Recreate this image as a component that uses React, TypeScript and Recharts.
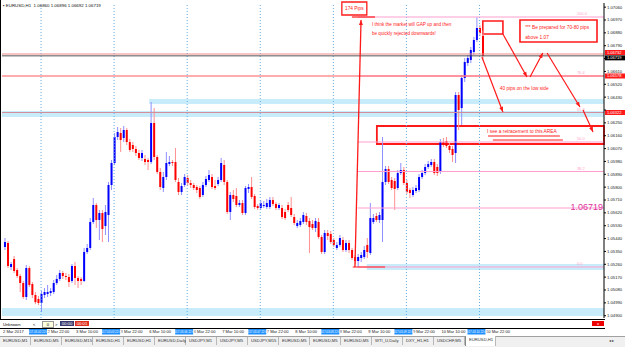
import React from "react";
import { ComposedChart, Bar, XAxis, YAxis, ReferenceLine, ReferenceArea } from "recharts";

// EURUSD H1 candles, 2 Mar 10:00 .. 10 Mar 23:00
const open = [
  1.05381, 1.05409, 1.05241, 1.05297, 1.0522, 1.05178, 1.05129, 1.05031, 1.05234, 1.05122, 1.05045, 1.05017, 1.04989, 1.05045,
  1.05052, 1.05059, 1.05066, 1.05129, 1.05157, 1.05199, 1.05178, 1.05171, 1.05143, 1.05248, 1.05164, 1.05157, 1.05143, 1.05346,
  1.05374, 1.05556, 1.05675, 1.0557, 1.05619, 1.05528, 1.05605, 1.05815, 1.05969, 1.06151, 1.06179, 1.06144, 1.062, 1.06116,
  1.06095, 1.06067, 1.06039, 1.06004, 1.05997, 1.0599, 1.05976, 1.06249, 1.06011, 1.05906, 1.05794, 1.05871, 1.05962, 1.05976,
  1.05976, 1.05836, 1.05766, 1.05815, 1.05864, 1.05829, 1.05815, 1.05801, 1.05794, 1.05745, 1.05815, 1.0585, 1.05871, 1.05808,
  1.05822, 1.0585, 1.05955, 1.05836, 1.05626, 1.05745, 1.05738, 1.05675, 1.05689, 1.05619, 1.05787, 1.05801, 1.05738, 1.05668,
  1.05654, 1.05668, 1.05661, 1.05661, 1.0571, 1.05682, 1.05654, 1.05654, 1.05626, 1.05675, 1.05654, 1.05591, 1.05528, 1.05535,
  1.05556, 1.05598, 1.05563, 1.05542, 1.05514, 1.05556, 1.05451, 1.05346, 1.05479, 1.05472, 1.0543, 1.05374, 1.05395, 1.0543,
  1.0536, 1.05409, 1.0536, 1.05311, 1.05283, 1.05304, 1.05311, 1.05395, 1.05339, 1.05556, 1.05598, 1.0557, 1.0557, 1.05836,
  1.05927, 1.0585, 1.05843, 1.05794, 1.05899, 1.0592, 1.05829, 1.0578, 1.05745, 1.05773, 1.0578, 1.05871, 1.05899, 1.05941,
  1.05955, 1.05976, 1.05941, 1.05906, 1.06116, 1.06123, 1.06088, 1.06067, 1.06039, 1.06445, 1.06354, 1.06564, 1.06669, 1.0669,
  1.06746, 1.0683, 1.06914, 1.0686,
];
const high = [
  1.05444, 1.05423, 1.05276, 1.05318, 1.05234, 1.05192, 1.05143, 1.05255, 1.05248, 1.05136, 1.05066, 1.05038, 1.05073, 1.05094,
  1.05115, 1.05094, 1.0515, 1.05185, 1.0522, 1.05213, 1.05199, 1.05192, 1.05262, 1.05276, 1.05178, 1.05171, 1.05374, 1.05402,
  1.05584, 1.05724, 1.05689, 1.0564, 1.0564, 1.05675, 1.05836, 1.0599, 1.06179, 1.06221, 1.06214, 1.06228, 1.06214, 1.06137,
  1.06116, 1.06088, 1.0606, 1.0606, 1.06025, 1.06004, 1.06396, 1.06354, 1.06025, 1.05934, 1.05906, 1.06046, 1.06018, 1.0599,
  1.06074, 1.05864, 1.05829, 1.05892, 1.05885, 1.0585, 1.05829, 1.05815, 1.05808, 1.05836, 1.05878, 1.0592, 1.05892, 1.0585,
  1.05871, 1.06004, 1.0599, 1.0585, 1.05766, 1.0578, 1.05794, 1.0571, 1.0571, 1.05808, 1.05822, 1.05871, 1.05752, 1.05682,
  1.0571, 1.05703, 1.05717, 1.05731, 1.05731, 1.05696, 1.05689, 1.05675, 1.05647, 1.05696, 1.05731, 1.05612, 1.0557, 1.05584,
  1.05626, 1.05619, 1.05584, 1.0557, 1.05584, 1.05584, 1.05465, 1.055, 1.055, 1.05493, 1.05444, 1.05416, 1.05465, 1.05451,
  1.0543, 1.0543, 1.05374, 1.05325, 1.05332, 1.05346, 1.05388, 1.05444, 1.05689, 1.05612, 1.05619, 1.05626, 1.06151, 1.05948,
  1.05948, 1.05871, 1.05864, 1.0592, 1.05969, 1.05941, 1.0585, 1.05794, 1.05801, 1.05815, 1.05892, 1.0592, 1.05962, 1.05983,
  1.05997, 1.05997, 1.05962, 1.06137, 1.06144, 1.06151, 1.06109, 1.06088, 1.06466, 1.06466, 1.06585, 1.06704, 1.06725, 1.06781,
  1.06851, 1.06991, 1.06935, 1.06896,
];
const low = [
  1.0536, 1.05234, 1.0522, 1.05199, 1.05164, 1.05066, 1.05017, 1.0501, 1.05101, 1.05024, 1.04982, 1.04975, 1.04926, 1.05024,
  1.05031, 1.05038, 1.05052, 1.05115, 1.05143, 1.05157, 1.0515, 1.05101, 1.05129, 1.05115, 1.05094, 1.05115, 1.05136, 1.05332,
  1.0536, 1.05542, 1.05514, 1.0543, 1.05416, 1.05465, 1.05416, 1.0578, 1.05955, 1.0613, 1.06046, 1.06116, 1.06095, 1.06046,
  1.06046, 1.06018, 1.0599, 1.05983, 1.05955, 1.0592, 1.05962, 1.0599, 1.05892, 1.0578, 1.05766, 1.0585, 1.05948, 1.05948,
  1.05836, 1.05745, 1.05745, 1.05801, 1.05808, 1.05794, 1.0578, 1.05759, 1.05717, 1.05731, 1.05801, 1.05836, 1.05787, 1.0578,
  1.05808, 1.05836, 1.05815, 1.05612, 1.0557, 1.05696, 1.05661, 1.05661, 1.05605, 1.05605, 1.05759, 1.05717, 1.05647, 1.0564,
  1.0564, 1.05654, 1.05647, 1.05647, 1.05668, 1.0564, 1.0564, 1.05577, 1.0557, 1.05626, 1.05591, 1.05535, 1.05514, 1.05521,
  1.05542, 1.05535, 1.05339, 1.055, 1.05486, 1.05437, 1.05332, 1.05332, 1.0543, 1.05402, 1.05381, 1.0536, 1.05381, 1.05346,
  1.05346, 1.05339, 1.0529, 1.05262, 1.05241, 1.05276, 1.05297, 1.05304, 1.05325, 1.05542, 1.05556, 1.05549, 1.05416, 1.05815,
  1.05822, 1.0578, 1.0564, 1.0578, 1.05885, 1.05815, 1.05752, 1.05724, 1.05731, 1.05759, 1.05766, 1.05857, 1.05885, 1.05927,
  1.05941, 1.05885, 1.05878, 1.05892, 1.06081, 1.06074, 1.06039, 1.05976, 1.05969, 1.062, 1.06235, 1.06536, 1.06648, 1.06669,
  1.06725, 1.06816, 1.06858, 1.06692,
];
const close = [
  1.05416, 1.05248, 1.05262, 1.05213, 1.05178, 1.05129, 1.05031, 1.05234, 1.05115, 1.05045, 1.04995, 1.04989, 1.05052, 1.05066,
  1.05066, 1.05073, 1.05129, 1.05157, 1.05199, 1.05178, 1.05171, 1.05136, 1.05248, 1.05164, 1.05143, 1.05143, 1.05346, 1.05374,
  1.05556, 1.05675, 1.0557, 1.05619, 1.05507, 1.05626, 1.05815, 1.05969, 1.06151, 1.06186, 1.0613, 1.062, 1.06116, 1.0606,
  1.06067, 1.06039, 1.06004, 1.06039, 1.05976, 1.05976, 1.06249, 1.06011, 1.05906, 1.05801, 1.05871, 1.05969, 1.05976, 1.05969,
  1.0585, 1.05766, 1.05808, 1.05871, 1.05829, 1.05815, 1.05794, 1.0578, 1.05731, 1.05815, 1.05857, 1.05885, 1.05801, 1.05794,
  1.0585, 1.05969, 1.05836, 1.05626, 1.05745, 1.05717, 1.05675, 1.05689, 1.05619, 1.05794, 1.05801, 1.05731, 1.05661, 1.05654,
  1.05689, 1.05675, 1.05689, 1.0571, 1.05682, 1.05654, 1.05675, 1.05591, 1.05584, 1.0564, 1.05605, 1.05549, 1.05549, 1.05563,
  1.05605, 1.05556, 1.05521, 1.05514, 1.05563, 1.05451, 1.05346, 1.05479, 1.05458, 1.05416, 1.05395, 1.05395, 1.05444, 1.0536,
  1.05409, 1.0536, 1.05304, 1.05283, 1.05311, 1.05325, 1.0536, 1.05346, 1.05584, 1.05584, 1.0557, 1.05605, 1.05836, 1.05927,
  1.05836, 1.05794, 1.05787, 1.05899, 1.0592, 1.05829, 1.05766, 1.05759, 1.0578, 1.05794, 1.05871, 1.05899, 1.05941, 1.05962,
  1.05976, 1.05899, 1.05899, 1.06116, 1.06095, 1.06088, 1.0606, 1.06025, 1.06445, 1.0634, 1.06564, 1.06676, 1.06704, 1.0676,
  1.0683, 1.06914, 1.06879, 1.06719,
];

const priceTicks = [
  1.049, 1.0499, 1.0508, 1.0517, 1.0526, 1.0535, 1.0544, 1.0553, 1.0562, 1.0571, 1.058, 1.0589, 1.0598,
  1.0607, 1.0616, 1.0625, 1.0634, 1.0643, 1.0652, 1.0661, 1.067, 1.0679, 1.0688, 1.0697, 1.0706,
];
const timeTicks = [0, 12, 24, 36, 48, 60, 72, 84, 96, 108, 120, 132, 144, 156];
const timeLabels = [
  "2 Mar 2017", "2 Mar 22:00", "3 Mar 10:00", "3 Mar 22:00", "6 Mar 10:00", "6 Mar 22:00", "7 Mar 10:00",
  "7 Mar 22:00", "8 Mar 10:00", "8 Mar 22:00", "9 Mar 10:00", "9 Mar 22:00", "10 Mar 10:00", "10 Mar 22:00",
];
const markerLabels = ["2017.03.02 22:00", "2017.03.03 22:00", "2017.03.06 22:00", "2017.03.07 22:00", "2017.03.08 22:00", "2017.03.09 22:00", "2017.03.10 22:00"];
const tabs = [
  "EURUSD,M1", "EURUSD,M5", "EURUSD,M15", "EURUSD,H1", "EURUSD,H1", "EURUSD,Daily", "USDJPY,M1", "USDJPY,M5",
  "USDJPY,M15", "EURUSD,M5", "EURUSD,M5", "EURUSD,M5", "WTI_U,Daily", "DXY_H1,H1", "USDCHF,M5", "EURUSD,H1",
];

// fibo from the 9 Mar low to the 10 Mar high
const fibLow = 1.05241;
const fibHigh = 1.06991;
const fibLevels = [0, 23.6, 38.2, 50, 61.8, 76.4, 100];
const fibLabelLevels = [0, 38.2, 50, 61.8, 76.4, 100];
const fibStartBar = 116;
const markerBars = [12, 36, 60, 84, 108, 132, 156];
const resistLine = 1.06732;

const X_MIN = -0.82;
const X_MAX = 196.9;
const Y_MIN = 1.04884;
const Y_MAX = 1.07089;

const candles = open.map((o, i) => ({ i, o, h: high[i], l: low[i], c: close[i], range: [low[i], high[i]] }));
const last = candles[candles.length - 1];
const fib = (r: number) => fibLow + ((fibHigh - fibLow) * r) / 100;
const highlighted = [fib(61.8), fib(76.4), resistLine, last.c];

const RED = "#ff1a1a";
const PINK = "#ff9fd0";
const BAND = "#c9ecfa";
const FONT = "'Liberation Sans', Arial, sans-serif";

function Candle(props: any) {
  const { x, y, width, height, payload } = props;
  if (payload == null) return null;
  const { o, h, l, c } = payload;
  const top = Math.min(y, y + height);
  const span = Math.abs(height);
  const k = h - l > 0 ? span / (h - l) : 0;
  const cx = x + width / 2;
  const up = c >= o;
  const bodyTop = top + (h - Math.max(o, c)) * k;
  const bodyH = Math.max(1, Math.abs(o - c) * k);
  return (
    <g>
      <line x1={cx} x2={cx} y1={top} y2={top + span} stroke={up ? "#8f8fff" : "#ff8f8f"} strokeWidth={1} />
      <rect x={cx - 1} y={bodyTop} width={2} height={bodyH} fill={up ? "#0000ff" : "#ff0000"} />
    </g>
  );
}

const seg = (color: string, width = 1, arrow = false, dash?: string) => (p: any) => {
  const { x1, y1, x2, y2 } = p;
  let head = null;
  if (arrow) {
    const a = Math.atan2(y2 - y1, x2 - x1);
    const L = 5;
    const W = 2;
    const bx = x2 - L * Math.cos(a);
    const by = y2 - L * Math.sin(a);
    const pts = `${x2},${y2} ${bx - W * Math.sin(a)},${by + W * Math.cos(a)} ${bx + W * Math.sin(a)},${by - W * Math.cos(a)}`;
    head = <polygon points={pts} fill={color} />;
  }
  return (
    <g>
      <line x1={x1} y1={y1} x2={x2} y2={y2} stroke={color} strokeWidth={width} strokeDasharray={dash} />
      {head}
    </g>
  );
};

const label = (text: string, color: string, size: number, anchor: "start" | "end" | "middle" = "start") => (p: any) => (
  <text x={p.x1} y={p.y1} dy="0.35em" fontSize={size} fill={color} textAnchor={anchor} fontFamily={FONT}>
    {text}
  </text>
);

// full-width price line with its highlighted price on the axis; shift nudges the box off a close neighbour
const axisBox = (color: string, bg: string, text: string, shift = 0) => (p: any) => {
  const { x1, y1, x2, y2 } = p;
  const right = Math.max(x1, x2);
  const cy = y1 + shift;
  return (
    <g>
      <line x1={x1} y1={y1} x2={x2} y2={y2} stroke={color} strokeWidth={1} />
      <rect x={right + 1} y={cy - 2.5} width={20} height={5} fill={bg} />
      <text x={right + 3} y={cy} dy="0.35em" fontSize={4} fill="#fff" fontFamily={FONT}>
        {text}
      </text>
    </g>
  );
};

function PriceTick(props: any) {
  const { x, y, payload } = props;
  const v = Number(payload.value);
  // the highlighted price boxes sit on top of the regular labels
  if (highlighted.some((h) => Math.abs(h - v) < 0.00025)) return null;
  return (
    <text x={x} y={y} dy="0.35em" fontSize={4.2} fill="#222" fontFamily={FONT}>
      {v.toFixed(5)}
    </text>
  );
}

function TimeTick(props: any) {
  const { x, y, payload } = props;
  const idx = timeTicks.indexOf(payload.value);
  const boxed = idx % 2 === 1;
  return (
    <g>
      <text x={boxed ? x + 6.5 : x - 1.5} y={y + 15} fontSize={4.1} fill="#222" fontFamily={FONT}>
        {timeLabels[idx]}
      </text>
      {boxed && (
        <g>
          <rect x={x - 12} y={y + 10.5} width={18} height={6} fill="#1e8fff" />
          <text x={x - 3} y={y + 13.5} dy="0.35em" fontSize={2.9} fill="#fff" textAnchor="middle" fontFamily={FONT}>
            {markerLabels[(idx - 1) / 2]}
          </text>
        </g>
      )}
    </g>
  );
}

const pt = (x: number, y: number) => ({ x, y });

export default function App() {
  return (
    <div style={{ position: "absolute", left: 0, top: 0, width: 625, height: 347, background: "#fff", overflow: "hidden", fontFamily: FONT }}>
      <div style={{ position: "absolute", left: 0, top: 0 }}>
        <ComposedChart width={625} height={336} data={candles} margin={{ top: 3, right: 0, bottom: 0, left: 2 }}>
          <XAxis
            dataKey="i"
            type="number"
            domain={[X_MIN, X_MAX]}
            allowDataOverflow
            ticks={timeTicks}
            interval={0}
            tick={<TimeTick />}
            tickSize={0}
            tickMargin={0}
            axisLine={false}
            tickLine={false}
            height={18}
          />
          <YAxis
            type="number"
            orientation="right"
            domain={[Y_MIN, Y_MAX]}
            allowDataOverflow
            ticks={priceTicks}
            interval={0}
            tick={<PriceTick />}
            tickSize={2}
            tickMargin={1}
            width={21}
            axisLine={{ stroke: "#000" }}
            tickLine={{ stroke: "#000" }}
          />

          <ReferenceArea y1={1.04898} y2={1.04954} fill={BAND} fillOpacity={1} stroke="none" />
          <ReferenceArea y1={1.06291} y2={1.06333} fill={BAND} fillOpacity={1} stroke="none" />
          <ReferenceArea x1={47.5} x2={X_MAX} y1={1.06382} y2={1.06417} fill={BAND} fillOpacity={1} stroke="none" />
          <ReferenceArea x1={119} x2={X_MAX} y1={1.0522} y2={1.05262} fill={BAND} fillOpacity={1} stroke="none" />

          {markerBars.map((b) => (
            <ReferenceLine key={`v${b}`} x={b} stroke="#62aee8" strokeDasharray="1 2" />
          ))}

          {fibLevels.map((r) => (
            <ReferenceLine key={`f${r}`} segment={[pt(fibStartBar, fib(r)), pt(X_MAX, fib(r))]} shape={seg(PINK)} />
          ))}
          {fibLabelLevels.map((r) => (
            <ReferenceLine
              key={`fl${r}`}
              segment={[pt(188, fib(r) + 0.00022), pt(188, fib(r) + 0.00022)]}
              shape={label(r.toFixed(1), PINK, 4)}
            />
          ))}

          <Bar dataKey="range" isAnimationActive={false} barSize={2} shape={<Candle />} />

          <ReferenceLine y={fib(61.8)} shape={axisBox("#d48f9a", RED, fib(61.8).toFixed(5))} />
          <ReferenceLine y={fib(76.4)} shape={axisBox("#ff5a5a", RED, fib(76.4).toFixed(5))} />
          <ReferenceLine y={resistLine} shape={axisBox("#f08a8a", RED, resistLine.toFixed(5), -1.5)} />
          <ReferenceLine y={last.c} shape={axisBox("#555", "#000", last.c.toFixed(5), 2)} />

          {/* 174 pips measurement */}
          <ReferenceArea x1={110.8} x2={119} y1={1.07005} y2={1.07096} fill="#fff" fillOpacity={1} stroke={RED} strokeWidth={1.3} ifOverflow="visible" />
          <ReferenceLine segment={[pt(114.9, 1.0705), pt(114.9, 1.0705)]} shape={label("174 Pips", RED, 4.8, "middle")} ifOverflow="visible" />
          <ReferenceLine segment={[pt(114.1, fibHigh), pt(121.7, fibHigh)]} shape={seg(RED, 1.2)} />
          <ReferenceLine segment={[pt(114.4, fibLow), pt(125, fibLow)]} shape={seg(RED, 1.2)} />
          <ReferenceLine segment={[pt(115.1, fibLow), pt(117.1, 1.0697)]} shape={seg(RED, 1.3, true)} />

          <ReferenceLine segment={[pt(120.7, 1.06942), pt(120.7, 1.06942)]} shape={label("I think the market will GAP up and then", RED, 4.6)} />
          <ReferenceLine segment={[pt(120.7, 1.06879), pt(120.7, 1.06879)]} shape={label("be quickly rejected downwards!", RED, 4.6)} />

          {/* gap box and arrows */}
          <ReferenceArea x1={157.1} x2={163.7} y1={1.06872} y2={1.06963} fill="none" stroke={RED} strokeWidth={1.6} />
          <ReferenceLine segment={[pt(156.8, 1.06711), pt(163.7, 1.06326)]} shape={seg(RED, 1.2, true)} />
          <ReferenceLine segment={[pt(163.7, 1.06872), pt(171.6, 1.06571)]} shape={seg(RED, 1.2, true)} />
          <ReferenceLine segment={[pt(172.6, 1.06571), pt(176.8, 1.06739)]} shape={seg(RED, 1.2, true)} />
          <ReferenceLine segment={[pt(178.2, 1.06739), pt(189, 1.06361)]} shape={seg(RED, 1.2, true)} />
          <ReferenceLine segment={[pt(190, 1.0634), pt(193.3, 1.06186)]} shape={seg(RED, 1.2, true)} />

          <ReferenceArea x1={169.3} x2={194.6} y1={1.06816} y2={1.0697} fill="none" stroke={RED} strokeWidth={1.6} />
          <ReferenceLine segment={[pt(171, 1.06921), pt(171, 1.06921)]} shape={label("*** Be prepared for 70-80 pips", RED, 4.8)} />
          <ReferenceLine segment={[pt(171, 1.06851), pt(171, 1.06851)]} shape={label("above 1.07", RED, 4.8)} />
          <ReferenceLine segment={[pt(162.7, 1.06494), pt(162.7, 1.06494)]} shape={label("40 pips on the low side", RED, 4.8)} />

          {/* retracement area */}
          <ReferenceArea x1={122.3} x2={X_MAX} y1={1.06102} y2={1.06228} fill="none" stroke={RED} strokeWidth={1.8} />
          <ReferenceLine segment={[pt(158.5, 1.06193), pt(158.5, 1.06193)]} shape={label("I see a retracement to this AREA", RED, 4.8)} />
          <ReferenceLine segment={[pt(158.8, 1.06158), pt(182.4, 1.06158)]} shape={seg(RED, 1.2)} />
          <ReferenceLine segment={[pt(160.4, 1.0613), pt(183.4, 1.0613)]} shape={seg(RED, 1)} />

          <ReferenceLine segment={[pt(196.6, 1.05661), pt(196.6, 1.05661)]} shape={label(last.c.toFixed(5), "#e0309a", 9, "end")} />
        </ComposedChart>
      </div>

      {/* header */}
      <div style={{ position: "absolute", left: 3, top: 3, fontSize: 4.4, color: "#111", whiteSpace: "nowrap" }}>
        ▪ EURUSD,H1&nbsp; {last.o.toFixed(5)} {last.h.toFixed(5)} {last.l.toFixed(5)} {last.c.toFixed(5)}
      </div>

      {/* frame */}
      <div style={{ position: "absolute", left: 0, top: 0, width: 1, height: 329, background: "#000" }} />

      {/* indicator subwindow */}
      <div style={{ position: "absolute", left: 0, top: 319, width: 605, height: 8, background: "#fff", borderTop: "1px solid #000", borderBottom: "1px solid #000", fontSize: 4.2 }}>
        <span style={{ position: "absolute", left: 3, top: 1.5 }}>Unknown</span>
        <span style={{ position: "absolute", left: 33, top: 1.5 }}>&lt;</span>
        <span style={{ position: "absolute", left: 42, top: 1, width: 10, height: 5, background: "#ffffe0", border: "0.5px solid #999", textAlign: "center", lineHeight: "5px" }}>0</span>
        <span style={{ position: "absolute", left: 55, top: 1.5 }}>&gt;</span>
        <span style={{ position: "absolute", left: 60, top: 1, width: 14, height: 5, background: "#3a3a6e", color: "#fff", textAlign: "center", lineHeight: "5px" }}>00:00</span>
        <span style={{ position: "absolute", left: 75, top: 1, width: 14, height: 5, background: "#e0301e", color: "#fff", textAlign: "center", lineHeight: "5px" }}>00:01</span>
        <span style={{ position: "absolute", left: 592, top: 1, width: 12, height: 5, background: "#ee0000", color: "#fff", textAlign: "center", lineHeight: "5px" }}>x</span>
      </div>

      {/* tabs */}
      <div style={{ position: "absolute", left: 0, top: 336, width: 625, height: 11, background: "#f0f0f0", borderTop: "1px solid #a0a0a0", display: "flex", fontSize: 4.2, color: "#333" }}>
        {tabs.map((t, k) => {
          const active = k === tabs.length - 1;
          return (
            <div
              key={k}
              style={{
                width: 31,
                height: active ? 10 : 8,
                marginTop: active ? -1 : 0,
                borderRight: "1px solid #b8b8b8",
                borderLeft: active ? "1px solid #888" : undefined,
                background: active ? "#fff" : "#f0f0f0",
                lineHeight: "8px",
                paddingLeft: 3,
                boxSizing: "border-box",
                whiteSpace: "nowrap",
              }}
            >
              {t}
            </div>
          );
        })}
        <div style={{ position: "absolute", left: 609, top: 1, fontSize: 4 }}>◂ ▸</div>
      </div>
    </div>
  );
}
